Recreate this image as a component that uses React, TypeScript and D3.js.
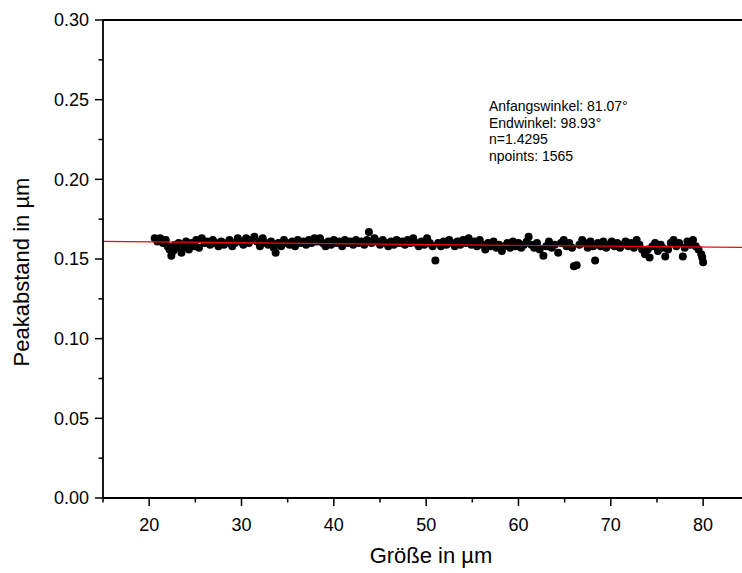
import React from "react";
import * as d3 from "d3";

const sizeX = [
  20.6, 20.9, 21.2, 21.5, 21.8, 22.0, 22.2, 22.4, 22.6, 22.8, 23.0, 23.2, 23.5, 23.8, 24.0, 24.3, 24.6, 24.9, 25.1, 25.4,
  25.7, 26.0, 26.3, 26.6, 26.9, 27.2, 27.5, 27.8, 28.1, 28.4, 28.7, 29.0, 29.3, 29.6, 29.9, 30.2, 30.5, 30.8, 31.1, 31.4,
  31.7, 32.0, 32.3, 32.6, 32.9, 33.2, 33.5, 33.7, 34.0, 34.3, 34.6, 34.9, 35.2, 35.5, 35.8, 36.1, 36.4, 36.7, 37.0, 37.3,
  37.6, 37.9, 38.2, 38.5, 38.8, 39.1, 39.4, 39.7, 40.0, 40.3, 40.6, 40.9, 41.2, 41.5, 41.8, 42.1, 42.4, 42.7, 43.0, 43.3,
  43.6, 43.8, 44.1, 44.4, 44.7, 45.0, 45.3, 45.6, 45.9, 46.2, 46.5, 46.8, 47.1, 47.4, 47.7, 48.0, 48.3, 48.6, 48.9, 49.2,
  49.5, 49.8, 50.1, 50.4, 50.7, 51.0, 51.3, 51.6, 51.9, 52.2, 52.5, 52.8, 53.1, 53.4, 53.7, 54.0, 54.3, 54.6, 54.9, 55.2,
  55.5, 55.8, 56.1, 56.4, 56.7, 57.0, 57.3, 57.6, 57.9, 58.2, 58.5, 58.8, 59.1, 59.4, 59.7, 60.0, 60.3, 60.6, 60.9, 61.1,
  61.4, 61.7, 62.0, 62.3, 62.7, 63.0, 63.3, 63.6, 63.9, 64.3, 64.6, 64.9, 65.2, 65.5, 65.8, 66.0, 66.3, 66.6, 66.9, 67.2,
  67.5, 67.8, 68.1, 68.3, 68.6, 68.9, 69.2, 69.5, 69.8, 70.1, 70.4, 70.7, 71.0, 71.3, 71.6, 71.9, 72.2, 72.5, 72.8, 73.1,
  73.4, 73.7, 74.0, 74.2, 74.5, 74.8, 75.1, 75.4, 75.6, 75.9, 76.2, 76.5, 76.8, 77.1, 77.4, 77.8, 78.0, 78.3, 78.6, 78.9,
  79.2, 79.5, 79.8, 80.0, 79.9,
];

const peakY = [
  0.163, 0.161, 0.163, 0.160, 0.162, 0.158, 0.156, 0.152, 0.155, 0.159, 0.157, 0.160, 0.154, 0.158, 0.161, 0.156, 0.160, 0.158, 0.162, 0.157,
  0.163, 0.160, 0.161, 0.159, 0.162, 0.160, 0.158, 0.161, 0.159, 0.160, 0.162, 0.158, 0.160, 0.163, 0.161, 0.159, 0.163, 0.160, 0.162, 0.164,
  0.161, 0.158, 0.163, 0.160, 0.159, 0.161, 0.157, 0.154, 0.160, 0.158, 0.162, 0.160, 0.159, 0.161, 0.158, 0.162, 0.160, 0.161, 0.159, 0.162,
  0.160, 0.163, 0.161, 0.163, 0.160, 0.158, 0.161, 0.159, 0.162, 0.160, 0.161, 0.158, 0.162, 0.160, 0.161, 0.159, 0.162, 0.160, 0.161, 0.159,
  0.162, 0.167, 0.160, 0.163, 0.161, 0.159, 0.162, 0.160, 0.158, 0.161, 0.159, 0.162, 0.160, 0.161, 0.159, 0.162, 0.160, 0.163, 0.160, 0.158,
  0.161, 0.159, 0.163, 0.160, 0.158, 0.149, 0.160, 0.158, 0.161, 0.159, 0.162, 0.160, 0.158, 0.161, 0.159, 0.162, 0.160, 0.163, 0.159, 0.161,
  0.158, 0.162, 0.159, 0.156, 0.160, 0.158, 0.161, 0.157, 0.159, 0.155, 0.158, 0.160, 0.157, 0.161, 0.158, 0.160, 0.157, 0.159, 0.161, 0.164,
  0.159, 0.157, 0.160, 0.156, 0.152, 0.158, 0.161, 0.157, 0.159, 0.154, 0.160, 0.162, 0.158, 0.160, 0.157, 0.1455, 0.146, 0.159, 0.162, 0.160,
  0.157, 0.161, 0.158, 0.149, 0.160, 0.158, 0.161, 0.157, 0.159, 0.161, 0.158, 0.160, 0.157, 0.159, 0.161, 0.158, 0.160, 0.157, 0.162, 0.159,
  0.156, 0.153, 0.156, 0.151, 0.158, 0.160, 0.155, 0.159, 0.157, 0.1515, 0.156, 0.160, 0.162, 0.158, 0.160, 0.1515, 0.157, 0.161, 0.159, 0.162,
  0.158, 0.156, 0.153, 0.148, 0.151,
];

const fitX = [15, 85];
const fitY = [0.161, 0.1572];

const xTicks = [20, 30, 40, 50, 60, 70, 80];
const xMinor = [15, 25, 35, 45, 55, 65, 75, 85];
const yTicks = [0.0, 0.05, 0.1, 0.15, 0.2, 0.25, 0.3];
const yMinor = [0.025, 0.075, 0.125, 0.175, 0.225, 0.275];

const notes = ["Anfangswinkel: 81.07°", "Endwinkel: 98.93°", "n=1.4295", "npoints: 1565"];

const W = 742;
const H = 573;
const left = 103;
const top = 20;
const bottom = 498;
const right = 749.3;

export default function App() {
  const x = d3.scaleLinear().domain([15, 85]).range([left, right]);
  const y = d3.scaleLinear().domain([0, 0.3]).range([bottom, top]);
  const fitLine = d3
    .line<number>()
    .x((_, i) => x(fitX[i]))
    .y((d) => y(d));
  const font = "Arial, 'Liberation Sans', sans-serif";
  return (
    <svg
      width={W}
      height={H}
      style={{ position: "absolute", left: 0, top: 0, background: "#fff" }}
      fontFamily={font}
    >
      <rect x={0} y={0} width={W} height={H} fill="#fff" />
      <g fill="#000">
        {sizeX.map((sx, i) => (
          <circle key={i} cx={x(sx)} cy={y(peakY[i])} r={4} />
        ))}
      </g>
      <path d={fitLine(fitY) || ""} stroke="#ff0000" strokeWidth={1.2} fill="none" />
      <g stroke="#000" strokeWidth={1.8} fill="none">
        <line x1={left} y1={top} x2={right} y2={top} />
        <line x1={left} y1={bottom} x2={right} y2={bottom} />
        <line x1={left} y1={top} x2={left} y2={bottom} />
        <line x1={right} y1={top} x2={right} y2={bottom} />
      </g>
      <g stroke="#000" strokeWidth={1.5}>
        {yTicks.map((t) => (
          <line key={t} x1={left - 8} x2={left} y1={y(t)} y2={y(t)} />
        ))}
        {yMinor.map((t) => (
          <line key={t} x1={left - 4.5} x2={left} y1={y(t)} y2={y(t)} />
        ))}
        {xTicks.map((t) => (
          <line key={t} x1={x(t)} x2={x(t)} y1={bottom} y2={bottom + 8} />
        ))}
        {xMinor.map((t) => (
          <line key={t} x1={x(t)} x2={x(t)} y1={bottom} y2={bottom + 4.5} />
        ))}
      </g>
      <g fontSize={18} fill="#000">
        {yTicks.map((t) => (
          <text key={t} x={left - 14} y={y(t)} dy="0.36em" textAnchor="end">
            {d3.format(".2f")(t)}
          </text>
        ))}
        {xTicks.map((t) => (
          <text key={t} x={x(t)} y={bottom + 33} textAnchor="middle">
            {t}
          </text>
        ))}
      </g>
      <text x={431} y={563} fontSize={22} textAnchor="middle" fill="#000">
        Größe in µm
      </text>
      <text
        transform={`translate(29, 272) rotate(-90)`}
        fontSize={22}
        textAnchor="middle"
        fill="#000"
      >
        Peakabstand in µm
      </text>
      <g fontSize={14} fill="#000">
        {notes.map((n, i) => (
          <text key={i} x={489} y={111 + i * 16.7}>
            {n}
          </text>
        ))}
      </g>
    </svg>
  );
}
